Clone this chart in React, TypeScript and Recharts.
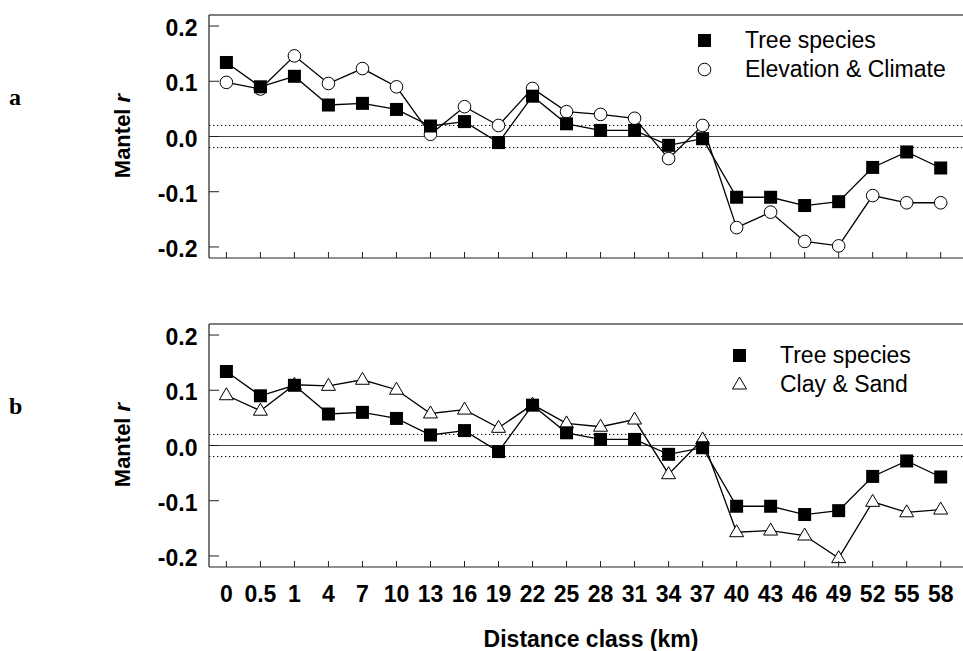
import React from 'react';
import { LineChart, Line, XAxis, YAxis, ReferenceLine, Legend } from 'recharts';

const distanceClasses = ['0', '0.5', '1', '4', '7', '10', '13', '16', '19', '22', '25', '28', '31', '34', '37', '40', '43', '46', '49', '52', '55', '58'];

const treeSpecies = [0.134, 0.09, 0.109, 0.057, 0.06, 0.049, 0.019, 0.027, -0.011, 0.073, 0.023, 0.011, 0.011, -0.016, -0.004, -0.11, -0.11, -0.125, -0.118, -0.056, -0.028, -0.057];
const elevationClimate = [0.098, 0.086, 0.146, 0.096, 0.123, 0.09, 0.004, 0.054, 0.02, 0.087, 0.045, 0.04, 0.033, -0.04, 0.02, -0.165, -0.137, -0.19, -0.198, -0.107, -0.12, -0.12];
const claySand = [0.091, 0.063, 0.11, 0.108, 0.119, 0.101, 0.058, 0.065, 0.032, 0.074, 0.04, 0.034, 0.047, -0.052, 0.011, -0.157, -0.154, -0.163, -0.204, -0.102, -0.121, -0.116];

const yTicks = [-0.2, -0.1, 0, 0.1, 0.2];
const signifBand = 0.02;

const SANS = '"Liberation Sans", Arial, Helvetica, sans-serif';
const SERIF = '"Liberation Serif", "Times New Roman", serif';
const W = 963;
const PLOT_LEFT = 209;
const PLOT_TOP = 15;
const PLOT_BOTTOM = 258;
const AXIS = '#222';

const SquareDot = (props: any) => {
  const { cx, cy } = props;
  if (cx == null || cy == null) return null;
  return <rect x={cx - 6.5} y={cy - 6.5} width={13} height={13} fill="#000" />;
};

const CircleDot = (props: any) => {
  const { cx, cy } = props;
  if (cx == null || cy == null) return null;
  return <circle cx={cx} cy={cy} r={6.3} fill="#fff" stroke="#000" strokeWidth={1} />;
};

const TriangleDot = (props: any) => {
  const { cx, cy } = props;
  if (cx == null || cy == null) return null;
  const pts = `${cx},${cy - 7.5} ${cx - 7},${cy + 4.5} ${cx + 7},${cy + 4.5}`;
  return <polygon points={pts} fill="#fff" stroke="#000" strokeWidth={1} />;
};

const XTick = ({ x, payload, showLabel }: any) => (
  <g>
    <line x1={x} x2={x} y1={PLOT_BOTTOM} y2={PLOT_BOTTOM - 6} stroke={AXIS} />
    {showLabel && (
      <text x={x} y={PLOT_BOTTOM + 35} textAnchor="middle" fontFamily={SANS} fontWeight="bold" fontSize={23} fill="#000">
        {payload.value}
      </text>
    )}
  </g>
);

const YTick = ({ y, payload }: any) => (
  <g>
    <line x1={PLOT_LEFT} x2={PLOT_LEFT + 10} y1={y} y2={y} stroke={AXIS} />
    <text x={197.5} y={y + 10} textAnchor="end" fontFamily={SANS} fontWeight="bold" fontSize={23} fill="#000">
      {Number(payload.value).toFixed(1)}
    </text>
  </g>
);

const LegendBox = ({ otherName, OtherDot }: any) => (
  <svg width={260} height={70} style={{ display: 'block' }}>
    <SquareDot cx={14.5} cy={20.5} />
    <text x={55} y={28} fontFamily={SANS} fontSize={23} fill="#000">Tree species</text>
    <OtherDot cx={14.5} cy={49.5} />
    <text x={55} y={56.7} fontFamily={SANS} fontSize={23} fill="#000">{otherName}</text>
  </svg>
);

type PanelProps = {
  letter: string;
  other: number[];
  otherName: string;
  OtherDot: any;
  showX: boolean;
  height: number;
  legendPos: { left: number; top: number };
};

function Panel({ letter, other, otherName, OtherDot, showX, height, legendPos }: PanelProps) {
  const data = distanceClasses.map((d, i) => ({ d, tree: treeSpecies[i], other: other[i] }));
  const xHeight = showX ? 60 : 30;
  const bottom = height - PLOT_BOTTOM - xHeight;
  return (
    <LineChart width={W} height={height} data={data} margin={{ top: PLOT_TOP, right: 0, left: 0, bottom }}>
      <XAxis
        dataKey="d"
        type="category"
        interval={0}
        padding={{ left: 17.4, right: 22.3 }}
        axisLine={{ stroke: AXIS, strokeWidth: 1.2 }}
        tickLine={false}
        height={xHeight}
        tick={(p: any) => <XTick {...p} showLabel={showX} />}
        label={
          showX
            ? (() => (
                <text x={591} y={338} textAnchor="middle" fontFamily={SANS} fontWeight="bold" fontSize={23} fill="#000">
                  Distance class (km)
                </text>
              )) as any
            : undefined
        }
      />
      <YAxis
        type="number"
        domain={[-0.22, 0.22]}
        ticks={yTicks}
        allowDataOverflow
        width={PLOT_LEFT}
        axisLine={{ stroke: AXIS, strokeWidth: 1.2 }}
        tickLine={false}
        tick={(p: any) => <YTick {...p} />}
        label={
          (() => (
            <g>
              <text
                x={130}
                y={136}
                transform="rotate(-90 130 136)"
                textAnchor="middle"
                fontFamily={SANS}
                fontWeight="bold"
                fontSize={22}
                fill="#000"
              >
                Mantel <tspan fontStyle="italic">r</tspan>
              </text>
              <text x={9} y={105} fontFamily={SERIF} fontWeight="bold" fontSize={24} fill="#000">
                {letter}
              </text>
            </g>
          )) as any
        }
      />
      <ReferenceLine y={0.22} stroke="#000" strokeWidth={1.2} />
      <ReferenceLine y={0} stroke="#444" strokeWidth={1} />
      <ReferenceLine y={signifBand} stroke="#000" strokeDasharray="1.3 2.7" />
      <ReferenceLine y={-signifBand} stroke="#000" strokeDasharray="1.3 2.7" />
      <Line
        dataKey="other"
        stroke="#000"
        strokeWidth={1.3}
        dot={(p: any) => <OtherDot key={`o-${p.index}`} {...p} />}
        activeDot={false}
        isAnimationActive={false}
      />
      <Line
        dataKey="tree"
        stroke="#000"
        strokeWidth={1.3}
        dot={(p: any) => <SquareDot key={`t-${p.index}`} {...p} />}
        activeDot={false}
        isAnimationActive={false}
      />
      <Legend
        layout="horizontal"
        verticalAlign="middle"
        align="center"
        content={() => <LegendBox otherName={otherName} OtherDot={OtherDot} />}
        wrapperStyle={{ position: 'absolute', left: legendPos.left, top: legendPos.top, width: 260, height: 70 }}
      />
    </LineChart>
  );
}

export default function App() {
  return (
    <div style={{ position: 'relative', width: W, height: 651, background: '#fff', overflow: 'hidden' }}>
      <style>{'body{margin:0}'}</style>
      <div style={{ position: 'absolute', left: 0, top: 0 }}>
        <Panel
          letter="a"
          other={elevationClimate}
          otherName="Elevation & Climate"
          OtherDot={CircleDot}
          showX={false}
          height={300}
          legendPos={{ left: 690, top: 20 }}
        />
      </div>
      <div style={{ position: 'absolute', left: 0, top: 309 }}>
        <Panel
          letter="b"
          other={claySand}
          otherName="Clay & Sand"
          OtherDot={TriangleDot}
          showX={true}
          height={342}
          legendPos={{ left: 725, top: 26 }}
        />
      </div>
    </div>
  );
}
